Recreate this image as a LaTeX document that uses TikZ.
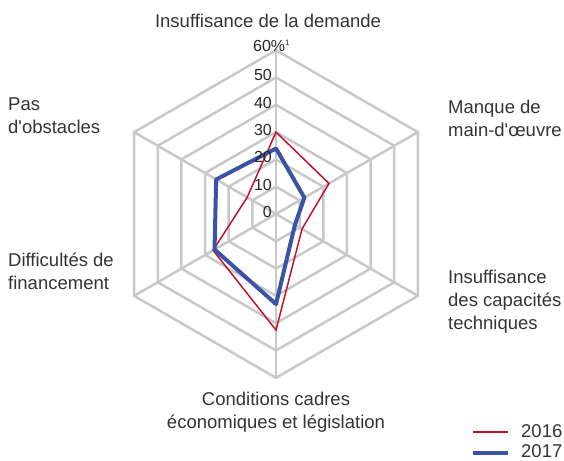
\documentclass[tikz,border=0pt]{standalone}
\usepackage{fontspec}
\setmainfont{Liberation Sans}
\usetikzlibrary{positioning}

\definecolor{gridgray}{HTML}{C8C8C8}
\definecolor{red16}{HTML}{C0142B}
\definecolor{blue17}{HTML}{3A53A4}
\definecolor{txt}{HTML}{333333}

\tikzset{
  axislabel/.style={font=\fontsize{18.5}{23}\selectfont, text=txt, inner sep=0pt},
  ticklabel/.style={font=\fontsize{16}{18}\selectfont, text=black!85, inner sep=0pt, anchor=base east},
  gridline/.style={draw=gridgray, line width=2.5pt},
  line16/.style={draw=red16, line width=1.5pt, line join=miter},
  line17/.style={draw=blue17, line width=4pt, line join=round}
}

\begin{document}
\begin{tikzpicture}[x=1pt, y=1pt]
        \useasboundingbox (0,0) rectangle (564,460);
        \coordinate (c) at (276,246);

        % grid
        \begin{scope}[shift={(c)}, x=2.73pt, y=2.73pt]
            \foreach \r in {10,20,...,60}
                \draw[gridline] (90:\r) -- (30:\r) -- (-30:\r) -- (-90:\r) -- (210:\r) -- (150:\r) -- cycle;
            \foreach \a in {90,30,-30,-90,210,150}
                \draw[gridline] (0,0) -- (\a:60);

            % 2016
            \coordinate (a1) at (90:30);
            \coordinate (a2) at (30:22.4);
            \coordinate (a3) at (-30:11);
            \coordinate (a4) at (-90:42.5);
            \coordinate (a5) at (210:26.6);
            \coordinate (a6) at (150:12.2);
            % 2017
            \coordinate (b1) at (90:24);
            \coordinate (b2) at (30:12);
            \coordinate (b3) at (-30:8);
            \coordinate (b4) at (-90:33);
            \coordinate (b5) at (210:26);
            \coordinate (b6) at (150:25.3);
        \end{scope}

        \draw[line16] (a1) -- (a2) -- (a3) -- (a4) -- (a5) -- (a6) -- cycle;
        \draw[line17] (b1) -- (b2) -- (b3) -- (b4) -- (b5) -- (b6) -- cycle;

        % scale
        \foreach \k in {0,...,5}
            \node[ticklabel] (t\k) at (272,242.5+27.3*\k) {\pgfmathparse{int(10*\k)}\pgfmathresult};
        \node[ticklabel, anchor=base west] (t6) at (253,408) {60\%\textsuperscript{\fontsize{8}{8}\selectfont 1}};

        % categories (base = last line)
        \node[axislabel, anchor=base] (demande) at (268,432) {Insuffisance de la demande};
        \node[axislabel, anchor=base west, align=left] (maindoeuvre) at (448,323) {Manque de\\main-d\textquotesingle œuvre};
        \node[axislabel, anchor=base west, align=left] (capacites) at (448,130.5) {Insuffisance\\des capacités\\techniques};
        \node[axislabel, anchor=base, align=center] (conditions) at (276,32) {Conditions cadres\\économiques et législation};
        \node[axislabel, anchor=base west, align=left] (financement) at (8,170) {Difficultés de\\financement};
        \node[axislabel, anchor=base west, align=left] (obstacles) at (8,326) {Pas\\d\textquotesingle obstacles};

        % legend
        \coordinate (l16a) at (473,28);
        \coordinate (l16b) at (508,28);
        \coordinate (l17a) at (473,7);
        \coordinate (l17b) at (508,7);
        \draw[line16] (l16a) -- (l16b);
        \draw[line17] (l17a) -- (l17b);
        \node[axislabel, anchor=base west] (k16) at (521,23) {2016};
        \node[axislabel, anchor=base west] (k17) at (521,2.5) {2017};
\end{tikzpicture}
\end{document}
